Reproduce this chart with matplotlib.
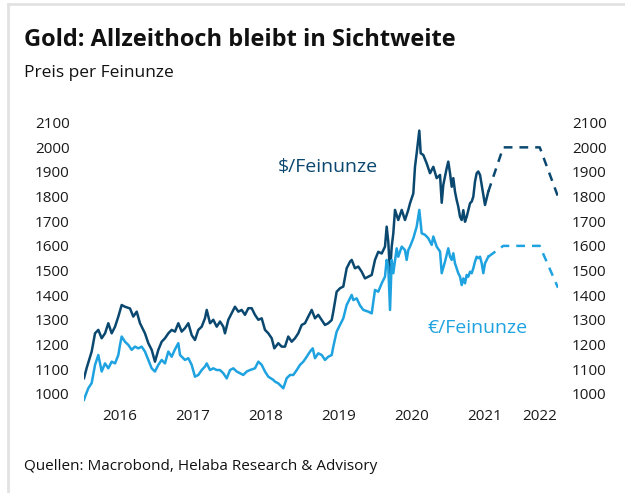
import matplotlib
matplotlib.use("Agg")
import matplotlib.pyplot as plt
from matplotlib.lines import Line2D

plt.rcParams['font.family'] = ['Open Sans', 'DejaVu Sans']

# gold in USD per ounce (time as decimal year)
usd_t = [2016.007, 2016.044, 2016.112, 2016.158, 2016.203, 2016.249, 2016.295, 2016.340, 2016.386, 2016.432,
         2016.477, 2016.523, 2016.568, 2016.637, 2016.682, 2016.729, 2016.774, 2016.842, 2016.888, 2016.934,
         2016.979, 2017.025, 2017.071, 2017.116, 2017.162, 2017.208, 2017.253, 2017.299, 2017.345, 2017.390,
         2017.436, 2017.482, 2017.527, 2017.573, 2017.619, 2017.664, 2017.688, 2017.733, 2017.778, 2017.825,
         2017.870, 2017.915, 2017.938, 2017.984, 2018.030, 2018.075, 2018.121, 2018.167, 2018.212, 2018.258,
         2018.304, 2018.349, 2018.395, 2018.441, 2018.486, 2018.532, 2018.578, 2018.614, 2018.668, 2018.715,
         2018.760, 2018.805, 2018.852, 2018.897, 2018.942, 2018.989, 2019.034, 2019.079, 2019.126, 2019.171,
         2019.216, 2019.263, 2019.308, 2019.353, 2019.400, 2019.422, 2019.468, 2019.514, 2019.559, 2019.605,
         2019.651, 2019.674, 2019.719, 2019.764, 2019.811, 2019.856, 2019.901, 2019.948, 2019.993, 2020.038,
         2020.085, 2020.130, 2020.153, 2020.175, 2020.199, 2020.222, 2020.244, 2020.267, 2020.312, 2020.359,
         2020.404, 2020.449, 2020.473, 2020.518, 2020.541, 2020.564, 2020.600, 2020.619, 2020.655, 2020.701,
         2020.747, 2020.792, 2020.838, 2020.884, 2020.907, 2020.929, 2020.975, 2020.997, 2021.021, 2021.044,
         2021.066, 2021.089, 2021.112, 2021.134, 2021.158, 2021.181, 2021.203, 2021.226, 2021.249, 2021.271,
         2021.295, 2021.318, 2021.340, 2021.363, 2021.386, 2021.408, 2021.432, 2021.455, 2021.477, 2021.500,
         2021.523, 2021.545]
usd = [1063, 1105, 1171, 1245, 1259, 1225, 1245, 1286, 1245, 1272,
       1313, 1360, 1353, 1346, 1313, 1333, 1286, 1245, 1205, 1178,
       1130, 1178, 1211, 1225, 1245, 1259, 1252, 1286, 1252, 1266,
       1286, 1238, 1218, 1259, 1272, 1306, 1340, 1286, 1300, 1272,
       1293, 1272, 1245, 1300, 1327, 1353, 1333, 1340, 1320, 1347,
       1347, 1320, 1300, 1306, 1259, 1245, 1225, 1184, 1205, 1191,
       1191, 1232, 1211, 1225, 1245, 1279, 1286, 1313, 1340, 1306,
       1320, 1299, 1279, 1286, 1299, 1333, 1414, 1428, 1435, 1509,
       1536, 1543, 1509, 1516, 1495, 1468, 1475, 1482, 1543, 1576,
       1569, 1597, 1678, 1617, 1489, 1597, 1651, 1746, 1705, 1746,
       1705, 1746, 1773, 1813, 1921, 1976, 2068, 1976, 1969, 1935,
       1895, 1921, 1875, 1888, 1775, 1848, 1915, 1942, 1895, 1840,
       1875, 1820, 1786, 1759, 1718, 1705, 1745, 1698, 1718, 1745,
       1773, 1780, 1800, 1861, 1895, 1902, 1888, 1847, 1807, 1766,
       1793, 1820]

# gold in EUR per ounce
eur_t = [2016.007, 2016.021, 2016.066, 2016.112, 2016.158, 2016.203, 2016.249, 2016.295, 2016.340, 2016.386,
         2016.432, 2016.477, 2016.500, 2016.523, 2016.568, 2016.614, 2016.660, 2016.705, 2016.751, 2016.797,
         2016.842, 2016.888, 2016.934, 2016.979, 2017.025, 2017.071, 2017.116, 2017.162, 2017.208, 2017.253,
         2017.299, 2017.322, 2017.390, 2017.436, 2017.482, 2017.527, 2017.573, 2017.619, 2017.664, 2017.688,
         2017.733, 2017.778, 2017.825, 2017.870, 2017.915, 2017.962, 2018.007, 2018.052, 2018.099, 2018.144,
         2018.189, 2018.236, 2018.281, 2018.349, 2018.395, 2018.441, 2018.486, 2018.532, 2018.600, 2018.623,
         2018.668, 2018.737, 2018.784, 2018.829, 2018.874, 2018.921, 2018.966, 2019.011, 2019.058, 2019.103,
         2019.140, 2019.171, 2019.216, 2019.263, 2019.308, 2019.353, 2019.400, 2019.422, 2019.468, 2019.514,
         2019.559, 2019.605, 2019.674, 2019.696, 2019.742, 2019.788, 2019.833, 2019.901, 2019.948, 2019.993,
         2020.038, 2020.085, 2020.130, 2020.153, 2020.175, 2020.199, 2020.222, 2020.244, 2020.290, 2020.312,
         2020.359, 2020.404, 2020.427, 2020.449, 2020.473, 2020.518, 2020.564, 2020.600, 2020.633, 2020.678,
         2020.723, 2020.770, 2020.792, 2020.838, 2020.884, 2020.907, 2020.952, 2020.997, 2021.021, 2021.044,
         2021.066, 2021.089, 2021.112, 2021.134, 2021.158, 2021.181, 2021.203, 2021.226, 2021.249, 2021.271,
         2021.295, 2021.318, 2021.340, 2021.363, 2021.386, 2021.408, 2021.432, 2021.455, 2021.477, 2021.500,
         2021.523, 2021.545]
eur = [975, 988, 1022, 1043, 1117, 1157, 1090, 1123, 1103, 1130,
       1123, 1157, 1198, 1232, 1211, 1198, 1178, 1191, 1184, 1191,
       1171, 1137, 1103, 1090, 1117, 1137, 1123, 1171, 1150, 1180,
       1205, 1157, 1137, 1144, 1117, 1069, 1076, 1096, 1110, 1123,
       1096, 1103, 1096, 1096, 1083, 1062, 1096, 1103, 1090, 1083,
       1076, 1090, 1096, 1103, 1130, 1117, 1090, 1069, 1056, 1049,
       1042, 1022, 1063, 1076, 1076, 1096, 1117, 1130, 1150, 1171,
       1184, 1144, 1164, 1157, 1137, 1150, 1157, 1191, 1252, 1279,
       1306, 1360, 1401, 1380, 1387, 1358, 1340, 1333, 1326, 1421,
       1414, 1448, 1475, 1543, 1516, 1340, 1543, 1489, 1590, 1556,
       1597, 1583, 1543, 1583, 1597, 1631, 1678, 1746, 1651, 1645,
       1631, 1604, 1638, 1597, 1577, 1489, 1536, 1590, 1556, 1543,
       1570, 1529, 1509, 1489, 1475, 1441, 1468, 1448, 1482, 1475,
       1495, 1489, 1509, 1536, 1556, 1550, 1556, 1529, 1489, 1529,
       1543, 1556]

# forecast (dashed)
fc_t = [2021.545, 2021.75, 2022.0, 2022.25, 2022.5]
fc_usd = [1820, 2000, 2000, 2000, 1800]
fc_eur = [1556, 1600, 1600, 1600, 1430]

years = [2016, 2017, 2018, 2019, 2020, 2021, 2022]
yticks = list(range(1000, 2101, 100))

dark = '#0b4870'
light = '#1ea2e0'

W, H = 625, 493
fig = plt.figure(figsize=(W / 100, H / 100), dpi=100)

# axes placed so that 2016..2022.5 and 950..2150 fill the plot area
x0, x1 = 83.5, 558
y_top, y_bot = 110.4, 406.0
ax = fig.add_axes([x0 / W, 1 - y_bot / H, (x1 - x0) / W, (y_bot - y_top) / H])
ax.set_xlim(2016, 2022.5)
ax.set_ylim(950, 2150)

ax.plot(usd_t, usd, color=dark, lw=1.8, solid_joinstyle='round')
ax.plot(eur_t, eur, color=light, lw=1.8, solid_joinstyle='round')
ax.plot(fc_t, fc_usd, color=dark, lw=1.8, dashes=(3.5, 2.8))
ax.plot(fc_t, fc_eur, color=light, lw=1.8, dashes=(3.5, 2.8))

for s in ax.spines.values():
    s.set_visible(False)

ax.set_yticks(yticks)
ax.tick_params(axis='y', length=0, labelleft=True, labelright=True, pad=10, labelsize=11, labelcolor='#1a1a1a')
# year labels centred over the visible part of each year
xt = [(y + min(y + 1, 2022.5)) / 2 for y in years]
ax.set_xticks(xt)
ax.set_xticklabels([str(y) for y in years])
ax.tick_params(axis='x', length=0, pad=2, labelsize=11, labelcolor='#1a1a1a')

ax.text(2019.34, 1922, '$/Feinunze', color=dark, fontsize=14, ha='center', va='center')
ax.text(2021.40, 1267, '€/Feinunze', color=light, fontsize=14, ha='center', va='center')

fig.text(24 / W, 1 - 40 / H, 'Gold: Allzeithoch bleibt in Sichtweite', fontsize=17,
         fontweight='bold', ha='left', va='center', color='#111111')
fig.text(24 / W, 1 - 73 / H, 'Preis per Feinunze', fontsize=12.5, ha='left', va='center', color='#111111')
fig.text(24 / W, 1 - 467 / H, 'Quellen: Macrobond, Helaba Research & Advisory', fontsize=11,
         ha='left', va='center', color='#111111')

# light frame at top and left
fig.add_artist(Line2D([8 / W, 1], [1 - 4 / H, 1 - 4 / H], color='#e2e2e2', lw=2))
fig.add_artist(Line2D([8 / W, 8 / W], [0, 1 - 4 / H], color='#e2e2e2', lw=2))

fig.savefig('out.png', dpi=100)
